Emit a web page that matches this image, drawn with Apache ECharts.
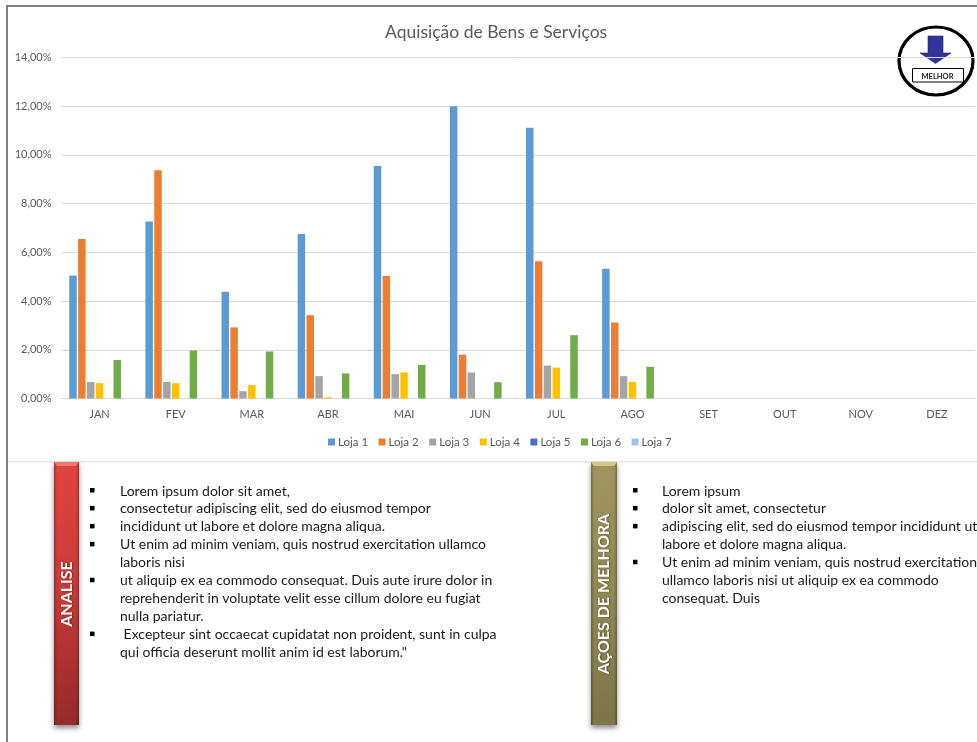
<!DOCTYPE html>
<html>
<head>
<meta charset="utf-8">
<style>html,body{margin:0;padding:0;background:#fff}#chart{width:977px;height:742px}</style>
<script src="https://cdn.jsdelivr.net/npm/echarts@6/dist/echarts.min.js"></script>
</head>
<body>
<div id="chart"></div>
<script>
// Monthly values per store, in percent
const months = ['JAN','FEV','MAR','ABR','MAI','JUN','JUL','AGO','SET','OUT','NOV','DEZ'];
const loja1 = [5.05, 7.27, 4.38, 6.75, 9.55, 12.0, 11.12, 5.33, null, null, null, null];
const loja2 = [6.55, 9.37, 2.92, 3.42, 5.03, 1.80, 5.63, 3.12, null, null, null, null];
const loja3 = [0.68, 0.68, 0.30, 0.92, 1.00, 1.07, 1.35, 0.92, null, null, null, null];
const loja4 = [0.63, 0.63, 0.55, 0.05, 1.07, 0, 1.27, 0.68, null, null, null, null];
const loja5 = [0, 0, 0, 0, 0, 0, 0, 0, null, null, null, null];
const loja6 = [1.58, 1.97, 1.93, 1.03, 1.38, 0.67, 2.60, 1.30, null, null, null, null];
const loja7 = [0, 0, 0, 0, 0, 0, 0, 0, null, null, null, null];

const seriesNames = ['Loja 1','Loja 2','Loja 3','Loja 4','Loja 5','Loja 6','Loja 7'];
const seriesColors = ['#5b9bd5','#ed7d31','#a5a5a5','#ffc000','#4472c4','#70ad47','#9dc3e6'];
const seriesValues = [loja1, loja2, loja3, loja4, loja5, loja6, loja7];

const analiseLines = [
  ['Lorem ipsum dolor sit amet,', true],
  ['consectetur adipiscing elit, sed do eiusmod tempor', true],
  ['incididunt ut labore et dolore magna aliqua.', true],
  ['Ut enim ad minim veniam, quis nostrud exercitation ullamco', true],
  ['laboris nisi', false],
  ['ut aliquip ex ea commodo consequat. Duis aute irure dolor in', true],
  ['reprehenderit in voluptate velit esse cillum dolore eu fugiat', false],
  ['nulla pariatur.', false],
  [' Excepteur sint occaecat cupidatat non proident, sunt in culpa', true],
  ['qui officia deserunt mollit anim id est laborum."', false]
];
const acoesLines = [
  ['Lorem ipsum', true],
  ['dolor sit amet, consectetur', true],
  ['adipiscing elit, sed do eiusmod tempor incididunt ut', true],
  ['labore et dolore magna aliqua.', false],
  ['Ut enim ad minim veniam, quis nostrud exercitation', true],
  ['ullamco laboris nisi ut aliquip ex ea commodo', false],
  ['consequat. Duis', false]
];

const FONT = 'Lato, "Open Sans", sans-serif';

// Bulleted text block: one text element and one square marker per line
function bulletBlock(lines, textX, bulletX, startY) {
  const out = [];
  lines.forEach(function (line, i) {
    const y = startY + i * 17.95;
    out.push({
      type: 'text', x: textX, y: y,
      style: { text: line[0], font: '14px ' + FONT, fill: '#1a1a1a', verticalAlign: 'middle' }
    });
    if (line[1]) {
      out.push({
        type: 'rect', shape: { x: bulletX, y: y - 3, width: 4.5, height: 4.5 },
        style: { fill: '#000' }
      });
    }
  });
  return out;
}

// Vertical bevelled tab with rotated caption
function sideTab(x, width, top, bottom, light, mid, dark, cap, label) {
  return [
    {
      type: 'rect', shape: { x: x, y: top, width: width, height: bottom - top },
      style: {
        fill: { type: 'linear', x: 0, y: 0, x2: 0, y2: 1,
          colorStops: [{ offset: 0, color: light }, { offset: 0.5, color: mid }, { offset: 1, color: dark }] },
        shadowBlur: 5, shadowOffsetY: 3, shadowColor: 'rgba(0,0,0,0.45)'
      }
    },
    {
      type: 'rect', shape: { x: x, y: top, width: 3, height: bottom - top },
      style: { fill: { type: 'linear', x: 0, y: 0, x2: 1, y2: 0,
        colorStops: [{ offset: 0, color: 'rgba(0,0,0,0.28)' }, { offset: 1, color: 'rgba(0,0,0,0)' }] } }
    },
    {
      type: 'rect', shape: { x: x + width - 3, y: top, width: 3, height: bottom - top },
      style: { fill: { type: 'linear', x: 0, y: 0, x2: 1, y2: 0,
        colorStops: [{ offset: 0, color: 'rgba(0,0,0,0)' }, { offset: 1, color: 'rgba(0,0,0,0.28)' }] } }
    },
    {
      type: 'polygon',
      shape: { points: [[x, top], [x + width, top], [x + width - 3, top + 4], [x + 3, top + 4]] },
      style: { fill: cap }
    },
    {
      type: 'text', x: x + width / 2, y: 594, rotation: Math.PI / 2,
      style: {
        text: label, font: 'bold 16px ' + FONT, fill: '#fff',
        align: 'center', verticalAlign: 'middle',
        textShadowColor: 'rgba(0,0,0,0.4)', textShadowBlur: 2, textShadowOffsetX: 1
      }
    }
  ];
}

// "MELHOR" badge with the downward arrow
const badge = [
  { type: 'ellipse', shape: { cx: 936, cy: 61, rx: 37, ry: 34 },
    style: { fill: '#fff', stroke: '#000', lineWidth: 3.2 } },
  { type: 'polygon',
    shape: { points: [[928, 36], [943, 36], [943, 53], [951, 53], [935.5, 63.5], [920, 53], [928, 53]] },
    style: { fill: '#33339c', stroke: '#23236e', lineWidth: 0.6 } },
  { type: 'rect', shape: { x: 912.5, y: 68.5, width: 51, height: 13.5 },
    style: { fill: '#fff', stroke: '#000', lineWidth: 1 } },
  { type: 'text', x: 937.5, y: 77,
    style: { text: 'MELHOR', font: 'bold 7.5px ' + FONT, fill: '#222', align: 'center', verticalAlign: 'middle' } }
];

const frame = [
  { type: 'rect', shape: { x: 6, y: 5, width: 971, height: 2 }, style: { fill: '#7f7f7f' } },
  { type: 'rect', shape: { x: 6, y: 5, width: 2, height: 737 }, style: { fill: '#7f7f7f' } },
  { type: 'rect', shape: { x: 8, y: 461, width: 969, height: 1.5 }, style: { fill: '#e6e6e6' } }
];

const chart = echarts.init(document.getElementById('chart'), null, { renderer: 'canvas' });
chart.setOption({
  animation: false,
  backgroundColor: '#fff',
  color: seriesColors,
  title: {
    text: 'Aquisição de Bens e Serviços',
    left: 380, top: 18,
    textStyle: { fontFamily: FONT, fontSize: 17.5, fontWeight: 'normal', color: '#595959' }
  },
  legend: {
    data: seriesNames, left: 323, top: 431,
    icon: 'rect', itemWidth: 7, itemHeight: 7, itemGap: 10.5,
    textStyle: { fontFamily: FONT, fontSize: 11.5, color: '#595959', padding: [0, 0, 0, -2] }
  },
  grid: { left: 61.5, right: 2, top: 57.5, bottom: 343.5 },
  xAxis: {
    type: 'category', data: months,
    axisLine: { lineStyle: { color: '#d9d9d9' } },
    axisTick: { show: false },
    axisLabel: { fontFamily: FONT, fontSize: 11, color: '#595959', margin: 10 }
  },
  yAxis: {
    type: 'value', min: 0, max: 14, interval: 2,
    axisLine: { show: false }, axisTick: { show: false },
    splitLine: { lineStyle: { color: '#d9d9d9' } },
    axisLabel: {
      fontFamily: FONT, fontSize: 11, color: '#595959', margin: 10,
      formatter: function (v) { return v.toFixed(2).replace('.', ',') + '%'; }
    }
  },
  series: seriesNames.map(function (name, i) {
    return { name: name, type: 'bar', data: seriesValues[i], barWidth: 7.5, barGap: '18%' };
  }),
  graphic: { elements: [].concat(
    frame,
    badge,
    sideTab(54, 25, 462, 725, '#e3443f', '#c73a38', '#96292a', '#ef7a74', 'ANALISE'),
    sideTab(591, 26, 462, 725, '#a0955d', '#928855', '#7d7547', '#d6c985', 'AÇOES DE MELHORA'),
    bulletBlock(analiseLines, 120, 90, 491),
    bulletBlock(acoesLines, 662, 633, 491)
  ) }
});
</script>
</body>
</html>
